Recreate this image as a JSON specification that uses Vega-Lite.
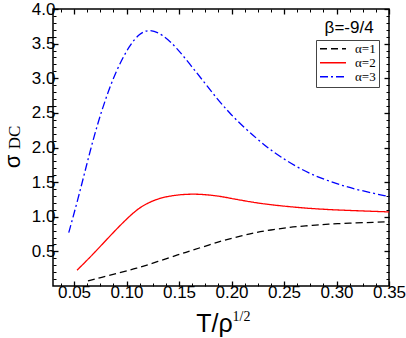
{
  "$schema": "https://vega.github.io/schema/vega-lite/v6.json",
  "width": 336,
  "height": 277,
  "autosize": {"type": "none"},
  "padding": {"left": 53, "top": 9, "right": 17, "bottom": 52},
  "background": "white",
  "config": {
    "view": {"stroke": "black", "strokeWidth": 1.5},
    "font": "Liberation Sans",
    "axis": {"grid": false, "domain": false, "tickColor": "black", "labelColor": "black", "titleColor": "black", "labelFont": "Liberation Sans", "titleFont": "Liberation Sans", "titleFontWeight": "normal"},
    "legend": {
      "orient": "none", "legendX": 263, "legendY": 31, "symbolType": "stroke", "symbolSize": 676,
      "symbolStrokeWidth": 1.3, "labelFont": "Liberation Serif", "labelFontSize": 13, "labelColor": "black",
      "strokeColor": "#444", "fillColor": "white", "padding": 3, "rowPadding": 0, "clipHeight": 11.5,
      "labelOffset": 8, "offset": 0
    }
  },
  "datasets": {
    "curves": [
      {"alpha": "α=1", "t": 0.0633, "s": 0.075},
      {"alpha": "α=1", "t": 0.075, "s": 0.12},
      {"alpha": "α=1", "t": 0.09, "s": 0.178},
      {"alpha": "α=1", "t": 0.1094, "s": 0.252},
      {"alpha": "α=1", "t": 0.13, "s": 0.355},
      {"alpha": "α=1", "t": 0.15, "s": 0.455},
      {"alpha": "α=1", "t": 0.1617, "s": 0.512},
      {"alpha": "α=1", "t": 0.18, "s": 0.6},
      {"alpha": "α=1", "t": 0.1922, "s": 0.658},
      {"alpha": "α=1", "t": 0.21, "s": 0.725},
      {"alpha": "α=1", "t": 0.224, "s": 0.777},
      {"alpha": "α=1", "t": 0.24, "s": 0.815},
      {"alpha": "α=1", "t": 0.2557, "s": 0.848},
      {"alpha": "α=1", "t": 0.27, "s": 0.868},
      {"alpha": "α=1", "t": 0.2874, "s": 0.887},
      {"alpha": "α=1", "t": 0.3, "s": 0.9},
      {"alpha": "α=1", "t": 0.3192, "s": 0.911},
      {"alpha": "α=1", "t": 0.335, "s": 0.92},
      {"alpha": "α=1", "t": 0.35, "s": 0.928},
      {"alpha": "α=2", "t": 0.0529, "s": 0.228},
      {"alpha": "α=2", "t": 0.06, "s": 0.335},
      {"alpha": "α=2", "t": 0.0681, "s": 0.46},
      {"alpha": "α=2", "t": 0.0808, "s": 0.665},
      {"alpha": "α=2", "t": 0.0935, "s": 0.87},
      {"alpha": "α=2", "t": 0.1062, "s": 1.055},
      {"alpha": "α=2", "t": 0.114, "s": 1.145},
      {"alpha": "α=2", "t": 0.122, "s": 1.21},
      {"alpha": "α=2", "t": 0.13, "s": 1.258},
      {"alpha": "α=2", "t": 0.1379, "s": 1.29},
      {"alpha": "α=2", "t": 0.15, "s": 1.318},
      {"alpha": "α=2", "t": 0.16, "s": 1.327},
      {"alpha": "α=2", "t": 0.17, "s": 1.325},
      {"alpha": "α=2", "t": 0.1795, "s": 1.313},
      {"alpha": "α=2", "t": 0.19, "s": 1.293},
      {"alpha": "α=2", "t": 0.1986, "s": 1.268},
      {"alpha": "α=2", "t": 0.21, "s": 1.236},
      {"alpha": "α=2", "t": 0.224, "s": 1.2},
      {"alpha": "α=2", "t": 0.24, "s": 1.168},
      {"alpha": "α=2", "t": 0.2557, "s": 1.145},
      {"alpha": "α=2", "t": 0.27, "s": 1.125},
      {"alpha": "α=2", "t": 0.2874, "s": 1.108},
      {"alpha": "α=2", "t": 0.3, "s": 1.098},
      {"alpha": "α=2", "t": 0.3192, "s": 1.087},
      {"alpha": "α=2", "t": 0.335, "s": 1.078},
      {"alpha": "α=2", "t": 0.35, "s": 1.07},
      {"alpha": "α=3", "t": 0.045, "s": 0.77},
      {"alpha": "α=3", "t": 0.0538, "s": 1.255},
      {"alpha": "α=3", "t": 0.0617, "s": 1.73},
      {"alpha": "α=3", "t": 0.0697, "s": 2.2},
      {"alpha": "α=3", "t": 0.0792, "s": 2.67},
      {"alpha": "α=3", "t": 0.0903, "s": 3.12},
      {"alpha": "α=3", "t": 0.103, "s": 3.48},
      {"alpha": "α=3", "t": 0.1125, "s": 3.65},
      {"alpha": "α=3", "t": 0.122, "s": 3.71},
      {"alpha": "α=3", "t": 0.1348, "s": 3.63},
      {"alpha": "α=3", "t": 0.1478, "s": 3.44},
      {"alpha": "α=3", "t": 0.1605, "s": 3.2},
      {"alpha": "α=3", "t": 0.1731, "s": 2.96},
      {"alpha": "α=3", "t": 0.1859, "s": 2.71},
      {"alpha": "α=3", "t": 0.1986, "s": 2.49},
      {"alpha": "α=3", "t": 0.2112, "s": 2.3},
      {"alpha": "α=3", "t": 0.224, "s": 2.13},
      {"alpha": "α=3", "t": 0.235, "s": 1.99},
      {"alpha": "α=3", "t": 0.2462, "s": 1.87},
      {"alpha": "α=3", "t": 0.2652, "s": 1.69},
      {"alpha": "α=3", "t": 0.2843, "s": 1.56},
      {"alpha": "α=3", "t": 0.3033, "s": 1.46},
      {"alpha": "α=3", "t": 0.3224, "s": 1.38},
      {"alpha": "α=3", "t": 0.35, "s": 1.29}
    ]
  },
  "layer": [
    {
      "data": {"name": "curves"},
      "mark": {"type": "line", "interpolate": "basis", "strokeWidth": 1.3},
      "encoding": {
        "x": {"field": "t", "type": "quantitative", "scale": {"domain": [0.03, 0.35], "nice": false, "zero": false},
          "axis": {"orient": "bottom", "values": [0.05, 0.1, 0.15, 0.2, 0.25, 0.3, 0.35], "format": ".2f", "tickSize": -5, "tickWidth": 1.3,
            "labelFontSize": 17, "labelPadding": 3, "labelFlush": false, "title": "T/ρ", "titleFontSize": 25,
            "titleX": 161, "titleY": 45.7, "titleBaseline": "alphabetic", "titleAlign": "center"}},
        "y": {"field": "s", "type": "quantitative", "scale": {"domain": [0, 4], "nice": false},
          "axis": {"orient": "left", "values": [0.5, 1, 1.5, 2, 2.5, 3, 3.5, 4], "format": ".1f", "tickSize": -5, "tickWidth": 1.3,
            "labelFontSize": 17, "labelPadding": 3, "labelFlush": false, "title": "σ", "titleFontSize": 22,
            "titleX": -33.5, "titleY": 152, "titleBaseline": "alphabetic", "titleAlign": "center", "titleAngle": 270}},
        "color": {"field": "alpha", "type": "nominal", "scale": {"domain": ["α=1", "α=2", "α=3"], "range": ["#000000", "#ff0000", "#0000ff"]}, "legend": {"title": null}},
        "strokeDash": {"field": "alpha", "type": "nominal", "scale": {"domain": ["α=1", "α=2", "α=3"], "range": [[7, 4], [1, 0], [8, 3, 2, 3]]}, "legend": {"title": null}}
      }
    },
    {
      "data": {"values": [{}]},
      "mark": {"type": "text", "text": "β=-9/4", "font": "Liberation Sans", "fontSize": 17, "align": "center", "baseline": "middle", "color": "black"},
      "encoding": {
        "x": {"datum": 0.312, "type": "quantitative", "axis": {"orient": "top", "values": [0.05, 0.1, 0.15, 0.2, 0.25, 0.3, 0.35], "labels": false, "tickSize": -5, "tickWidth": 1.3, "title": null}},
        "y": {"datum": 3.72, "type": "quantitative", "axis": {"orient": "right", "values": [0.5, 1, 1.5, 2, 2.5, 3, 3.5, 4], "labels": false, "tickSize": -5, "tickWidth": 1.3, "title": null}}
      }
    },
    {
      "data": {"values": [{}]},
      "mark": {"type": "text", "text": ""},
      "encoding": {
        "x": {"datum": 0.2, "type": "quantitative", "axis": {"orient": "bottom", "values": [0.0375, 0.05, 0.0625, 0.075, 0.0875, 0.1, 0.1125, 0.125, 0.1375, 0.15, 0.1625, 0.175, 0.1875, 0.2, 0.2125, 0.225, 0.2375, 0.25, 0.2625, 0.275, 0.2875, 0.3, 0.3125, 0.325, 0.3375, 0.35], "labels": false, "tickSize": -3, "tickWidth": 1, "title": null}},
        "y": {"datum": 2, "type": "quantitative", "axis": {"orient": "left", "values": [0.1, 0.2, 0.3, 0.4, 0.5, 0.6, 0.7, 0.8, 0.9, 1, 1.1, 1.2, 1.3, 1.4, 1.5, 1.6, 1.7, 1.8, 1.9, 2, 2.1, 2.2, 2.3, 2.4, 2.5, 2.6, 2.7, 2.8, 2.9, 3, 3.1, 3.2, 3.3, 3.4, 3.5, 3.6, 3.7, 3.8, 3.9], "labels": false, "tickSize": -3, "tickWidth": 1,
          "title": "DC", "titleFont": "Liberation Serif", "titleFontSize": 17, "titleAngle": 270, "titleX": -34, "titleY": 128, "titleBaseline": "alphabetic", "titleAlign": "center"}}
      }
    },
    {
      "data": {"values": [{}]},
      "mark": {"type": "text", "text": ""},
      "encoding": {
        "x": {"datum": 0.2, "type": "quantitative", "axis": {"orient": "top", "values": [0.0375, 0.05, 0.0625, 0.075, 0.0875, 0.1, 0.1125, 0.125, 0.1375, 0.15, 0.1625, 0.175, 0.1875, 0.2, 0.2125, 0.225, 0.2375, 0.25, 0.2625, 0.275, 0.2875, 0.3, 0.3125, 0.325, 0.3375, 0.35], "labels": false, "tickSize": -3, "tickWidth": 1,
          "title": "1/2", "titleFont": "Liberation Serif", "titleFontSize": 14, "titleX": 188, "titleY": 311, "titleBaseline": "alphabetic", "titleAlign": "center"}},
        "y": {"datum": 2, "type": "quantitative", "axis": {"orient": "right", "values": [0.1, 0.2, 0.3, 0.4, 0.5, 0.6, 0.7, 0.8, 0.9, 1, 1.1, 1.2, 1.3, 1.4, 1.5, 1.6, 1.7, 1.8, 1.9, 2, 2.1, 2.2, 2.3, 2.4, 2.5, 2.6, 2.7, 2.8, 2.9, 3, 3.1, 3.2, 3.3, 3.4, 3.5, 3.6, 3.7, 3.8, 3.9], "labels": false, "tickSize": -3, "tickWidth": 1, "title": null}}
      }
    }
  ],
  "resolve": {"axis": {"x": "independent", "y": "independent"}}
}
